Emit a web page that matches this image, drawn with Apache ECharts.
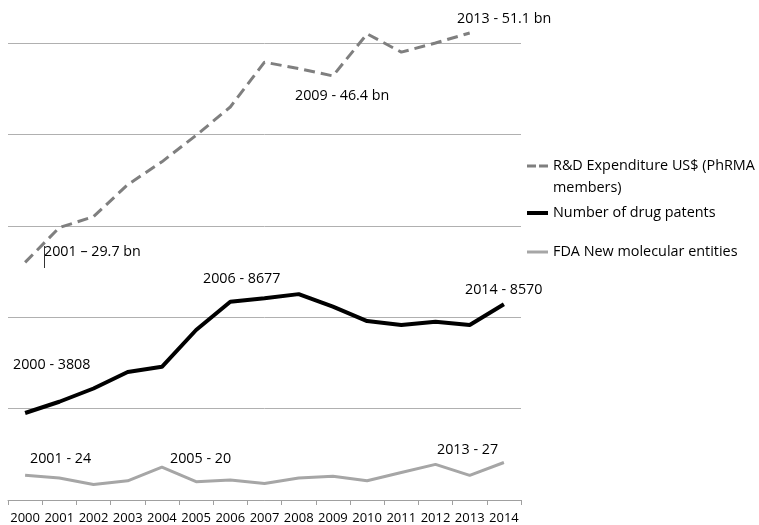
<!DOCTYPE html>
<html>
<head>
<meta charset="utf-8">
<script src="https://cdn.jsdelivr.net/npm/echarts@6/dist/echarts.min.js"></script>
<style>
html,body{margin:0;padding:0;background:#fff;}
#chart{width:759px;height:525px;}
</style>
</head>
<body>
<div id="chart"></div>
<script>
const years = ['2000','2001','2002','2003','2004','2005','2006','2007','2008','2009','2010','2011','2012','2013','2014'];
const rdExpenditure = [26.0, 29.8, 31.0, 34.5, 37.0, 39.9, 43.0, 47.9, 47.2, 46.4, 51.0, 49.0, 50.0, 51.1, null];
const drugPatents = [3808, 4300, 4880, 5600, 5830, 7440, 8677, 8830, 9010, 8460, 7830, 7660, 7800, 7660, 8570];
const fdaNME = [27, 24, 17, 21, 36, 20, 22, 18, 24, 26, 21, 30, 39, 27, 41];
const seriesNames = ['R&D Expenditure US$ (PhRMA members)', 'Number of drug patents', 'FDA New molecular entities'];
const annotations = [
  {text: '2013 - 51.1 bn', x: 457, y: 22},
  {text: '2009 - 46.4 bn', x: 295, y: 99},
  {text: '2001 \u2013 29.7 bn', x: 44, y: 255},
  {text: '2006 - 8677', x: 203, y: 282},
  {text: '2014 - 8570', x: 465, y: 293},
  {text: '2000 - 3808', x: 13, y: 368},
  {text: '2001 - 24', x: 30, y: 462},
  {text: '2005 - 20', x: 170, y: 462},
  {text: '2013 - 27', x: 437, y: 453}
];

const FONT = '"Open Sans", "Noto Sans", sans-serif';
const chart = echarts.init(document.getElementById('chart'), null, {renderer: 'canvas'});

const legendText = {fontFamily: FONT, fontSize: 14.4, color: '#000', lineHeight: 21};
const legendCommon = {
  orient: 'vertical',
  left: 527,
  padding: 0,
  itemWidth: 21,
  selectedMode: false
};

chart.setOption({
  animation: false,
  backgroundColor: '#fff',
  grid: {left: 8, right: 238, top: 43, bottom: 25, containLabel: false},
  legend: [
    Object.assign({}, legendCommon, {
      data: [seriesNames[0]], top: 166 - 33, itemHeight: 3,
      icon: 'path://M0,0h9v3h-9z M12,0h9v3h-9z',
      itemStyle: {color: '#7f7f7f'},
      formatter: () => '\nR&D Expenditure US$ (PhRMA\nmembers)',
      textStyle: Object.assign({}, legendText, {lineHeight: 22})
    }),
    Object.assign({}, legendCommon, {data: [seriesNames[1]], top: 213 - 10.5, itemHeight: 4,
      icon: 'rect', itemStyle: {color: '#000'}, textStyle: legendText}),
    Object.assign({}, legendCommon, {data: [seriesNames[2]], top: 252 - 10.5, itemHeight: 3,
      icon: 'rect', itemStyle: {color: '#a6a6a6'}, textStyle: legendText})
  ],
  xAxis: {
    type: 'category',
    data: years,
    boundaryGap: true,
    axisLine: {lineStyle: {color: '#a0a0a0', width: 1}},
    axisTick: {show: true, length: 5, lineStyle: {color: '#a0a0a0'}},
    axisLabel: {fontFamily: FONT, fontSize: 13, color: '#000', margin: 12, interval: 0}
  },
  yAxis: [
    {type: 'value', min: 0, max: 20000, interval: 4000, axisLabel: {show: false}, axisLine: {show: false}, axisTick: {show: false},
      splitLine: {show: true, lineStyle: {color: '#b0b0b0', width: 1}}},
    {type: 'value', min: 0, max: 50, interval: 10, show: false, splitLine: {show: false}},
    {type: 'value', min: 0, max: 500, interval: 100, show: false, splitLine: {show: false}}
  ],
  series: [
    {name: seriesNames[0], type: 'line', yAxisIndex: 1, data: rdExpenditure, symbol: 'none', clip: false, z: 3,
      lineStyle: {color: '#7f7f7f', width: 3, type: [11, 6]}, itemStyle: {color: '#7f7f7f'}},
    {name: seriesNames[1], type: 'line', yAxisIndex: 0, data: drugPatents, symbol: 'none', z: 4,
      lineStyle: {color: '#000', width: 4}, itemStyle: {color: '#000'}},
    {name: seriesNames[2], type: 'line', yAxisIndex: 2, data: fdaNME, symbol: 'none', z: 3,
      lineStyle: {color: '#a6a6a6', width: 3}, itemStyle: {color: '#a6a6a6'}}
  ],
  graphic: annotations.map(a => ({
    type: 'text', left: a.x, top: a.y - 10, z: 10,
    style: {text: a.text, font: '14.3px ' + FONT, fill: '#000'}
  })).concat([{type: 'line', z: 10, shape: {x1: 44.5, y1: 246, x2: 44.5, y2: 268}, style: {stroke: '#333', lineWidth: 1}}])
});
</script>
</body>
</html>
